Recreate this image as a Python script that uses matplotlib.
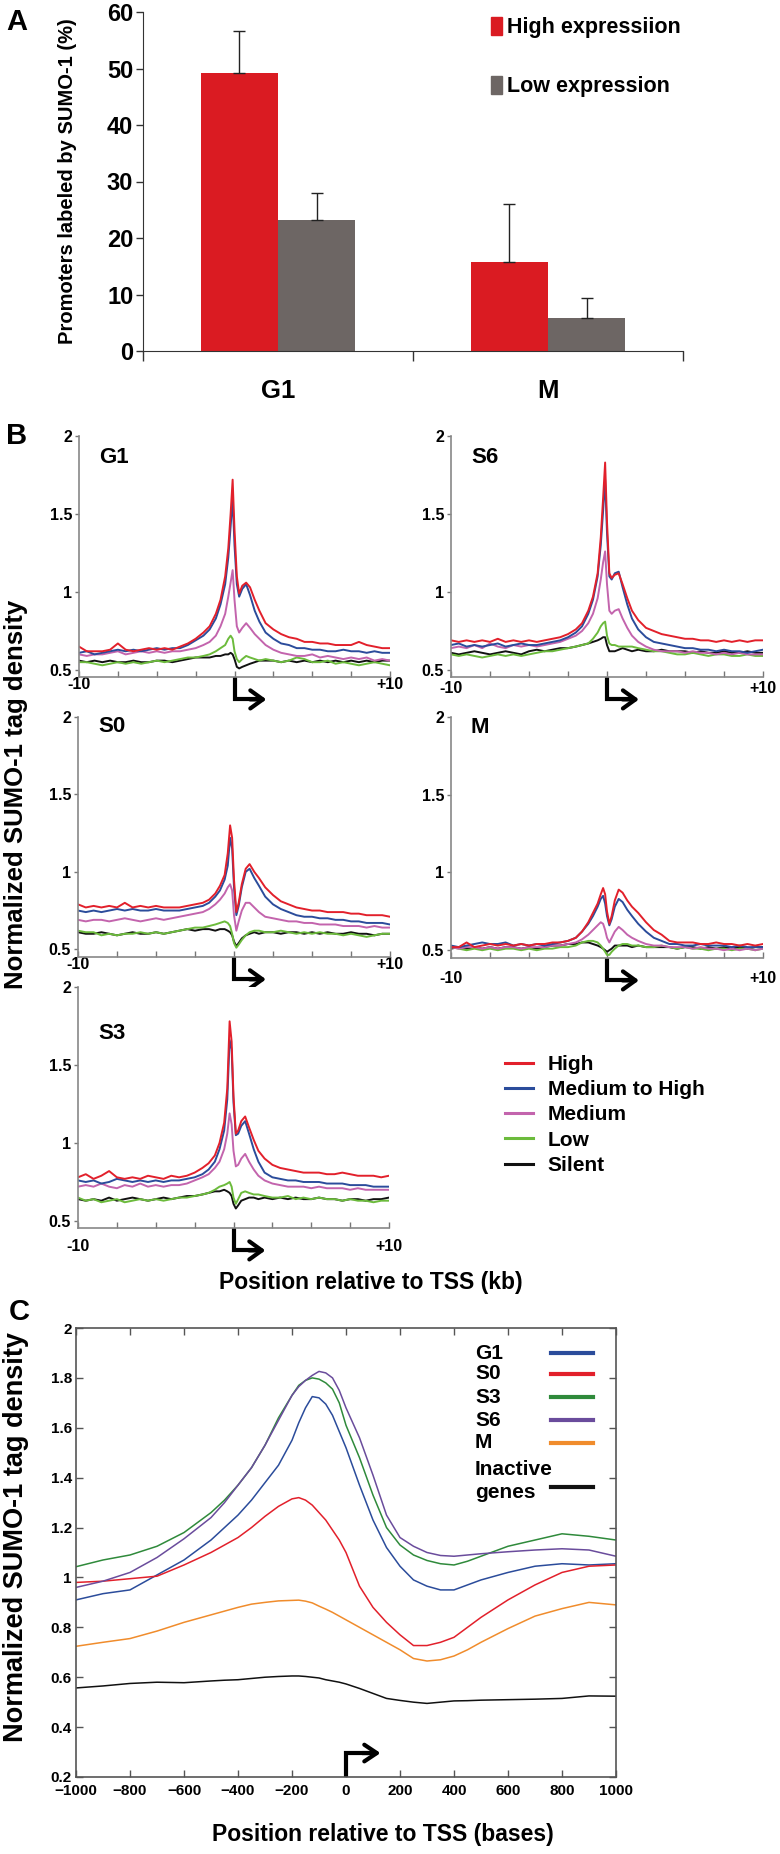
import matplotlib
matplotlib.use("Agg")
import matplotlib.pyplot as plt
from matplotlib import font_manager
from matplotlib.patches import Patch
from matplotlib.lines import Line2D
from matplotlib.ticker import FuncFormatter, MultipleLocator
import numpy as np

W, H = 780, 1854
DPI = 100

names = {f.name for f in font_manager.fontManager.ttflist}
SANS = 'Liberation Sans' if 'Liberation Sans' in names else 'DejaVu Sans'
plt.rcParams['font.family'] = [SANS, 'DejaVu Sans']
plt.rcParams['font.weight'] = 'bold'

# ---------------- panel A data ----------------
stages_a = ['G1', 'M']
high_pct = [49.2, 15.8]
high_err = [7.5, 10.2]
low_pct = [23.2, 5.8]
low_err = [4.8, 3.5]

# ---------------- panel B data (kb from TSS) ----------------
levels = ['High', 'Medium to High', 'Medium', 'Low', 'Silent']
level_colors = ['#e2202b', '#2b4c9b', '#c364ad', '#6cbb3c', '#111111']
xb = [-10, -9.5, -9, -8.5, -8, -7.5, -7, -6.5, -6, -5.5, -5, -4.5, -4, -3.5, -3, -2.5, -2,
      -1.6, -1.2, -0.9, -0.6, -0.4, -0.25, -0.12, 0, 0.15, 0.3, 0.5, 0.75, 1.0, 1.3, 1.6,
      2, 2.5, 3, 3.5, 4, 4.5, 5, 5.5, 6, 6.5, 7, 7.5, 8, 8.5, 9, 9.5, 10]

g1_high = [0.65, 0.62, 0.62, 0.62, 0.63, 0.67, 0.63, 0.62, 0.63, 0.64, 0.63, 0.64, 0.63, 0.65, 0.67, 0.70, 0.74,
           0.78, 0.86, 0.95, 1.10, 1.28, 1.50, 1.72, 1.40, 1.10, 0.99, 1.04, 1.06, 1.03, 0.95, 0.88,
           0.80, 0.76, 0.73, 0.71, 0.70, 0.68, 0.68, 0.67, 0.67, 0.66, 0.66, 0.66, 0.68, 0.66, 0.65, 0.64, 0.64]
g1_medhigh = [0.61, 0.62, 0.60, 0.61, 0.62, 0.63, 0.62, 0.63, 0.62, 0.63, 0.64, 0.63, 0.64, 0.64, 0.66, 0.69, 0.72,
              0.76, 0.83, 0.92, 1.05, 1.22, 1.42, 1.60, 1.30, 1.05, 0.97, 1.02, 1.05, 0.98, 0.88, 0.81,
              0.74, 0.70, 0.67, 0.66, 0.64, 0.64, 0.63, 0.63, 0.62, 0.62, 0.63, 0.62, 0.62, 0.61, 0.62, 0.61, 0.61]
g1_medium = [0.60, 0.59, 0.60, 0.60, 0.61, 0.62, 0.60, 0.61, 0.62, 0.61, 0.62, 0.61, 0.62, 0.62, 0.63, 0.64, 0.66,
             0.68, 0.72, 0.78, 0.86, 0.97, 1.06, 1.14, 0.95, 0.78, 0.74, 0.77, 0.80, 0.77, 0.73, 0.70,
             0.66, 0.63, 0.61, 0.60, 0.59, 0.59, 0.60, 0.58, 0.59, 0.58, 0.57, 0.58, 0.57, 0.58, 0.56, 0.57, 0.56]
g1_low = [0.55, 0.55, 0.54, 0.53, 0.54, 0.55, 0.54, 0.55, 0.54, 0.55, 0.56, 0.55, 0.56, 0.57, 0.58, 0.58, 0.59,
          0.60, 0.62, 0.64, 0.66, 0.70, 0.72, 0.70, 0.62, 0.57, 0.55, 0.57, 0.59, 0.58, 0.57, 0.56,
          0.57, 0.56, 0.55, 0.56, 0.58, 0.57, 0.55, 0.55, 0.56, 0.54, 0.55, 0.54, 0.53, 0.54, 0.55, 0.54, 0.53]
g1_silent = [0.56, 0.55, 0.56, 0.55, 0.56, 0.55, 0.55, 0.56, 0.55, 0.55, 0.56, 0.56, 0.55, 0.56, 0.57, 0.58, 0.58,
             0.58, 0.59, 0.59, 0.60, 0.60, 0.61, 0.60, 0.57, 0.52, 0.51, 0.52, 0.53, 0.54, 0.55, 0.56,
             0.56, 0.56, 0.55, 0.56, 0.55, 0.56, 0.55, 0.56, 0.55, 0.56, 0.55, 0.56, 0.55, 0.56, 0.55, 0.56, 0.56]

s6_high = [0.69, 0.68, 0.69, 0.68, 0.69, 0.68, 0.70, 0.68, 0.69, 0.68, 0.69, 0.68, 0.69, 0.70, 0.71, 0.73, 0.76,
           0.80, 0.88, 0.97, 1.12, 1.35, 1.60, 1.83, 1.45, 1.12, 1.09, 1.11, 1.12, 1.05, 0.96, 0.88,
           0.82, 0.77, 0.75, 0.73, 0.72, 0.71, 0.70, 0.70, 0.69, 0.69, 0.68, 0.69, 0.68, 0.69, 0.68, 0.69, 0.69]
s6_medhigh = [0.66, 0.67, 0.65, 0.66, 0.65, 0.66, 0.67, 0.65, 0.66, 0.67, 0.66, 0.66, 0.67, 0.68, 0.69, 0.71, 0.74,
              0.78, 0.86, 0.95, 1.10, 1.30, 1.52, 1.72, 1.38, 1.10, 1.08, 1.12, 1.13, 1.03, 0.92, 0.83,
              0.76, 0.71, 0.68, 0.67, 0.66, 0.65, 0.64, 0.64, 0.63, 0.63, 0.62, 0.63, 0.62, 0.62, 0.61, 0.62, 0.63]
s6_medium = [0.64, 0.65, 0.64, 0.66, 0.64, 0.67, 0.65, 0.64, 0.66, 0.65, 0.66, 0.65, 0.66, 0.67, 0.68, 0.70, 0.72,
             0.75, 0.80, 0.86, 0.96, 1.08, 1.19, 1.26, 1.05, 0.88, 0.86, 0.88, 0.89, 0.83, 0.77, 0.72,
             0.68, 0.65, 0.63, 0.62, 0.62, 0.62, 0.61, 0.62, 0.61, 0.61, 0.60, 0.61, 0.60, 0.61, 0.60, 0.60, 0.60]
s6_low = [0.60, 0.59, 0.60, 0.59, 0.58, 0.59, 0.60, 0.59, 0.60, 0.59, 0.60, 0.61, 0.62, 0.62, 0.63, 0.64, 0.65,
          0.66, 0.67, 0.70, 0.74, 0.78, 0.80, 0.81, 0.72, 0.67, 0.66, 0.66, 0.65, 0.65, 0.65, 0.65,
          0.64, 0.63, 0.62, 0.62, 0.61, 0.60, 0.60, 0.61, 0.60, 0.59, 0.60, 0.60, 0.59, 0.59, 0.60, 0.59, 0.59]
s6_silent = [0.61, 0.60, 0.61, 0.62, 0.61, 0.60, 0.61, 0.62, 0.61, 0.60, 0.62, 0.63, 0.62, 0.63, 0.64, 0.64, 0.65,
             0.66, 0.67, 0.68, 0.69, 0.70, 0.71, 0.71, 0.66, 0.62, 0.62, 0.62, 0.63, 0.64, 0.63, 0.62,
             0.63, 0.62, 0.62, 0.63, 0.62, 0.62, 0.62, 0.61, 0.62, 0.61, 0.61, 0.62, 0.61, 0.61, 0.62, 0.61, 0.61]

s0_high = [0.79, 0.77, 0.78, 0.77, 0.78, 0.77, 0.80, 0.77, 0.78, 0.77, 0.78, 0.77, 0.77, 0.77, 0.78, 0.79, 0.80,
           0.82, 0.86, 0.91, 0.98, 1.12, 1.30, 1.22, 0.95, 0.74, 0.80, 0.92, 1.02, 1.05, 1.00, 0.96,
           0.90, 0.85, 0.81, 0.79, 0.77, 0.76, 0.75, 0.75, 0.74, 0.74, 0.74, 0.73, 0.73, 0.72, 0.72, 0.72, 0.71]
s0_medhigh = [0.75, 0.74, 0.75, 0.74, 0.75, 0.76, 0.75, 0.76, 0.75, 0.75, 0.76, 0.75, 0.75, 0.75, 0.76, 0.77, 0.78,
              0.80, 0.84, 0.88, 0.95, 1.04, 1.22, 1.15, 0.90, 0.72, 0.78, 0.90, 1.00, 1.02, 0.96, 0.91,
              0.84, 0.79, 0.76, 0.74, 0.72, 0.71, 0.71, 0.70, 0.70, 0.69, 0.69, 0.68, 0.68, 0.67, 0.67, 0.67, 0.66]
s0_medium = [0.69, 0.68, 0.69, 0.69, 0.68, 0.69, 0.70, 0.69, 0.68, 0.69, 0.70, 0.69, 0.70, 0.71, 0.72, 0.73, 0.74,
             0.76, 0.79, 0.82, 0.86, 0.90, 0.92, 0.88, 0.72, 0.62, 0.68, 0.75, 0.80, 0.80, 0.77, 0.74,
             0.71, 0.70, 0.69, 0.68, 0.68, 0.67, 0.67, 0.66, 0.66, 0.66, 0.65, 0.65, 0.65, 0.64, 0.65, 0.64, 0.64]
s0_low = [0.62, 0.61, 0.61, 0.59, 0.60, 0.59, 0.60, 0.60, 0.61, 0.60, 0.61, 0.60, 0.61, 0.62, 0.63, 0.64, 0.64,
          0.65, 0.66, 0.67, 0.68, 0.67, 0.65, 0.60, 0.54, 0.51, 0.53, 0.56, 0.59, 0.61, 0.62, 0.62,
          0.61, 0.61, 0.62, 0.61, 0.60, 0.61, 0.60, 0.61, 0.60, 0.60, 0.59, 0.60, 0.59, 0.58, 0.59, 0.60, 0.60]
s0_silent = [0.61, 0.60, 0.60, 0.61, 0.60, 0.59, 0.60, 0.61, 0.60, 0.60, 0.61, 0.60, 0.61, 0.62, 0.63, 0.62, 0.63,
             0.63, 0.62, 0.63, 0.63, 0.62, 0.61, 0.59, 0.55, 0.52, 0.54, 0.57, 0.59, 0.60, 0.61, 0.60,
             0.61, 0.61, 0.60, 0.61, 0.61, 0.60, 0.61, 0.60, 0.61, 0.60, 0.60, 0.61, 0.60, 0.60, 0.59, 0.60, 0.60]

m_high = [0.52, 0.52, 0.55, 0.52, 0.53, 0.54, 0.53, 0.54, 0.53, 0.54, 0.53, 0.54, 0.54, 0.55, 0.55, 0.56, 0.58,
          0.62, 0.68, 0.74, 0.80, 0.86, 0.90, 0.86, 0.75, 0.67, 0.72, 0.82, 0.89, 0.87, 0.82, 0.78,
          0.74, 0.68, 0.63, 0.60, 0.56, 0.55, 0.55, 0.55, 0.54, 0.54, 0.55, 0.54, 0.54, 0.53, 0.54, 0.53, 0.54]
m_medhigh = [0.53, 0.52, 0.53, 0.54, 0.55, 0.54, 0.54, 0.55, 0.53, 0.54, 0.53, 0.54, 0.53, 0.54, 0.55, 0.56, 0.58,
             0.62, 0.67, 0.72, 0.78, 0.83, 0.85, 0.80, 0.72, 0.66, 0.70, 0.78, 0.83, 0.81, 0.76, 0.72,
             0.67, 0.62, 0.58, 0.56, 0.54, 0.54, 0.53, 0.53, 0.54, 0.53, 0.53, 0.53, 0.52, 0.53, 0.52, 0.52, 0.52]
m_medium = [0.52, 0.51, 0.52, 0.52, 0.51, 0.52, 0.51, 0.52, 0.52, 0.51, 0.52, 0.52, 0.52, 0.53, 0.53, 0.54, 0.55,
            0.57, 0.60, 0.63, 0.66, 0.68, 0.67, 0.63, 0.58, 0.55, 0.58, 0.62, 0.65, 0.63, 0.60, 0.58,
            0.56, 0.54, 0.53, 0.53, 0.52, 0.52, 0.52, 0.51, 0.52, 0.51, 0.51, 0.50, 0.51, 0.50, 0.51, 0.50, 0.51]
m_low = [0.52, 0.51, 0.50, 0.51, 0.50, 0.51, 0.50, 0.51, 0.51, 0.50, 0.51, 0.50, 0.51, 0.51, 0.52, 0.52, 0.53,
         0.55, 0.56, 0.56, 0.55, 0.53, 0.51, 0.49, 0.47, 0.47, 0.49, 0.51, 0.53, 0.54, 0.54, 0.53,
         0.53, 0.52, 0.52, 0.53, 0.52, 0.51, 0.52, 0.51, 0.51, 0.50, 0.51, 0.51, 0.50, 0.51, 0.51, 0.50, 0.51]
m_silent = [0.51, 0.52, 0.51, 0.52, 0.51, 0.52, 0.51, 0.52, 0.52, 0.51, 0.52, 0.51, 0.52, 0.53, 0.53, 0.54, 0.54,
            0.55, 0.55, 0.54, 0.53, 0.52, 0.51, 0.50, 0.49, 0.50, 0.51, 0.53, 0.53, 0.53, 0.53, 0.52,
            0.53, 0.52, 0.52, 0.52, 0.52, 0.51, 0.52, 0.52, 0.51, 0.52, 0.51, 0.52, 0.51, 0.52, 0.51, 0.52, 0.52]

s3_high = [0.78, 0.80, 0.77, 0.79, 0.82, 0.78, 0.77, 0.78, 0.77, 0.79, 0.78, 0.77, 0.79, 0.78, 0.79, 0.81, 0.84,
           0.87, 0.92, 1.00, 1.13, 1.35, 1.78, 1.65, 1.30, 1.06, 1.08, 1.14, 1.17, 1.10, 1.02, 0.95,
           0.90, 0.86, 0.84, 0.83, 0.82, 0.81, 0.81, 0.81, 0.80, 0.80, 0.81, 0.80, 0.79, 0.79, 0.79, 0.78, 0.79]
s3_medhigh = [0.76, 0.75, 0.76, 0.74, 0.75, 0.77, 0.76, 0.75, 0.76, 0.75, 0.76, 0.75, 0.76, 0.76, 0.77, 0.78, 0.80,
              0.83, 0.88, 0.96, 1.08, 1.28, 1.66, 1.60, 1.26, 1.05, 1.06, 1.11, 1.14, 1.06, 0.96, 0.88,
              0.81, 0.78, 0.77, 0.76, 0.76, 0.75, 0.75, 0.75, 0.74, 0.74, 0.74, 0.73, 0.73, 0.73, 0.72, 0.72, 0.72]
s3_medium = [0.72, 0.73, 0.72, 0.74, 0.72, 0.71, 0.73, 0.72, 0.74, 0.72, 0.73, 0.72, 0.73, 0.73, 0.74, 0.76, 0.78,
             0.80, 0.84, 0.88, 0.96, 1.06, 1.19, 1.12, 0.95, 0.85, 0.86, 0.90, 0.93, 0.88, 0.83, 0.79,
             0.76, 0.74, 0.73, 0.72, 0.72, 0.72, 0.71, 0.72, 0.71, 0.71, 0.71, 0.70, 0.71, 0.70, 0.70, 0.70, 0.70]
s3_low = [0.65, 0.63, 0.64, 0.62, 0.63, 0.64, 0.62, 0.63, 0.64, 0.63, 0.64, 0.63, 0.64, 0.65, 0.65, 0.66, 0.67,
          0.68, 0.70, 0.72, 0.73, 0.74, 0.75, 0.72, 0.65, 0.61, 0.64, 0.68, 0.69, 0.68, 0.67, 0.67,
          0.66, 0.65, 0.65, 0.66, 0.64, 0.65, 0.64, 0.65, 0.64, 0.64, 0.63, 0.64, 0.63, 0.63, 0.62, 0.63, 0.63]
s3_silent = [0.64, 0.63, 0.64, 0.63, 0.65, 0.63, 0.64, 0.65, 0.64, 0.63, 0.64, 0.65, 0.64, 0.65, 0.66, 0.66, 0.67,
             0.68, 0.69, 0.69, 0.70, 0.69, 0.68, 0.66, 0.61, 0.58, 0.60, 0.63, 0.64, 0.65, 0.65, 0.64,
             0.65, 0.64, 0.65, 0.64, 0.65, 0.64, 0.64, 0.65, 0.64, 0.64, 0.63, 0.64, 0.64, 0.63, 0.64, 0.64, 0.65]

# ---------------- panel C data (bases from TSS) ----------------
xc = [-1000, -900, -800, -700, -600, -500, -450, -400, -350, -300, -250, -200, -175, -150, -125,
      -100, -75, -50, -25, 0, 50, 100, 150, 200, 250, 300, 350, 400, 450, 500, 600, 700, 800, 900, 1000]
c_g1 = [0.91, 0.935, 0.95, 1.01, 1.07, 1.15, 1.20, 1.25, 1.31, 1.38, 1.45, 1.55, 1.62, 1.68, 1.725,
        1.72, 1.695, 1.65, 1.585, 1.52, 1.37, 1.23, 1.12, 1.045, 0.99, 0.965, 0.95, 0.95, 0.97, 0.99,
        1.02, 1.045, 1.055, 1.05, 1.055]
c_s0 = [0.98, 0.985, 0.995, 1.005, 1.05, 1.10, 1.13, 1.16, 1.20, 1.245, 1.285, 1.315, 1.32, 1.31, 1.29,
        1.26, 1.23, 1.19, 1.15, 1.10, 0.965, 0.88, 0.82, 0.77, 0.727, 0.727, 0.74, 0.76, 0.80, 0.84,
        0.91, 0.97, 1.02, 1.045, 1.05]
c_s3 = [1.043, 1.07, 1.09, 1.125, 1.18, 1.26, 1.31, 1.37, 1.44, 1.53, 1.64, 1.73, 1.77, 1.79, 1.80,
        1.795, 1.78, 1.755, 1.70, 1.61, 1.48, 1.33, 1.20, 1.13, 1.09, 1.068, 1.055, 1.05, 1.065, 1.085,
        1.125, 1.15, 1.175, 1.165, 1.15]
c_s6 = [0.96, 0.985, 1.02, 1.08, 1.155, 1.24, 1.30, 1.37, 1.44, 1.53, 1.63, 1.73, 1.765, 1.79, 1.81,
        1.826, 1.82, 1.80, 1.75, 1.68, 1.56, 1.41, 1.25, 1.16, 1.125, 1.10, 1.088, 1.085, 1.09, 1.095,
        1.103, 1.11, 1.115, 1.11, 1.085]
c_m = [0.724, 0.74, 0.755, 0.785, 0.82, 0.85, 0.865, 0.88, 0.893, 0.90, 0.906, 0.908, 0.909, 0.905, 0.898,
       0.885, 0.873, 0.86, 0.845, 0.83, 0.80, 0.77, 0.74, 0.71, 0.675, 0.665, 0.67, 0.685, 0.71, 0.74,
       0.795, 0.845, 0.875, 0.90, 0.89]
c_inactive = [0.557, 0.565, 0.575, 0.58, 0.578, 0.585, 0.588, 0.59, 0.595, 0.60, 0.603, 0.605, 0.605, 0.603, 0.60,
              0.597, 0.59, 0.585, 0.58, 0.573, 0.555, 0.535, 0.515, 0.507, 0.50, 0.495, 0.50, 0.505, 0.506, 0.508,
              0.51, 0.512, 0.515, 0.525, 0.524]
c_names = ['G1', 'S0', 'S3', 'S6', 'M', 'Inactive\ngenes']
c_colors = ['#2b4c9b', '#e2202b', '#2f8a3b', '#6a4c9c', '#f08c2c', '#111111']

fig = plt.figure(figsize=(W / DPI, H / DPI), dpi=DPI)


def px_axes(left, top, right, bottom):
    return fig.add_axes([left / W, 1 - bottom / H, (right - left) / W, (bottom - top) / H])


def ftext(x, y, s, **kw):
    fig.text(x / W, 1 - y / H, s, **kw)


# ================= panel A =================
axa = px_axes(143, 12, 683, 351)
xa = np.arange(len(stages_a))
bw = 0.287
axa.bar(xa - bw / 2, high_pct, bw, color='#da1b22', label='High expressiion',
        yerr=[[0] * len(high_err), high_err], error_kw=dict(ecolor='#222222', elinewidth=1, capsize=4, capthick=1))
axa.bar(xa + bw / 2, low_pct, bw, color='#6d6664', label='Low expression',
        yerr=[[0] * len(low_err), low_err], error_kw=dict(ecolor='#222222', elinewidth=1, capsize=4, capthick=1))
axa.set_xlim(-0.5, 1.5)
axa.set_ylim(0, 60)
axa.set_yticks(range(0, 61, 10))
axa.set_xticks(xa)
axa.set_xticklabels(stages_a, fontsize=18.5, fontweight='bold')
axa.set_xticks([-0.5, 0.5, 1.5], minor=True)
axa.tick_params(axis='x', which='major', length=0, pad=20)
axa.tick_params(axis='x', which='minor', length=7, width=1, color='#333333', direction='out')
axa.tick_params(axis='y', length=5, width=1, color='#333333', labelsize=17, pad=2)
for s in ['top', 'right']:
    axa.spines[s].set_visible(False)
for s in ['left', 'bottom']:
    axa.spines[s].set_color('#333333')
axa.set_ylabel('Promoters labeled by SUMO-1 (%)', fontsize=14.5, fontweight='bold')
axa.yaxis.set_label_coords(-0.123, 0.5)
axa.legend(handles=[Patch(color='#da1b22'), Patch(color='#6d6664')],
           labels=['High expressiion', 'Low expression'], loc='upper left',
           bbox_to_anchor=(0.645, 0.985), frameon=False, handlelength=0.5, handleheight=0.9,
           handletextpad=0.25, labelspacing=1.75, borderpad=0, borderaxespad=0,
           prop={'size': 15.5, 'weight': 'bold'})

# ================= panel B =================
panels = [
    ('G1', (79, 436, 390, 677), (0.455, 2.0), 1.865, 0, [g1_high, g1_medhigh, g1_medium, g1_low, g1_silent]),
    ('S6', (451, 436, 763, 677), (0.455, 2.0), 1.865, 3, [s6_high, s6_medhigh, s6_medium, s6_low, s6_silent]),
    ('S0', (78, 717, 390, 957), (0.45, 2.0), 1.94, 0, [s0_high, s0_medhigh, s0_medium, s0_low, s0_silent]),
    ('M', (451, 717, 763, 958), (0.45, 2.0), 1.93, 9, [m_high, m_medhigh, m_medium, m_low, m_silent]),
    ('S3', (78, 987, 389, 1228), (0.455, 2.0), 1.70, 8, [s3_high, s3_medhigh, s3_medium, s3_low, s3_silent]),
]
xticks_b = np.arange(-10, 10.1, 2.5)
xlabels_b = ['-10'] + [''] * (len(xticks_b) - 2) + ['+10']
for name, box, ylim, ylab, xpad, series in panels:
    ax = px_axes(*box)
    for ys, col in zip(series[::-1], level_colors[::-1]):
        ax.plot(xb, ys, color=col, lw=1.4)
    ax.set_xlim(-10, 10)
    ax.set_ylim(*ylim)
    ax.set_yticks([0.5, 1, 1.5, 2])
    ax.yaxis.set_major_formatter(FuncFormatter(lambda v, p: f'{v:g}'))
    ax.set_xticks(xticks_b)
    ax.set_xticklabels(xlabels_b)
    ax.tick_params(axis='x', direction='in', length=4, width=1, color='#777777', labelsize=11.5, pad=xpad)
    ax.tick_params(axis='y', direction='out', length=3, width=1, color='#777777', labelsize=11.5, pad=2)
    for s in ['top', 'right']:
        ax.spines[s].set_visible(False)
    for s in ['left', 'bottom']:
        ax.spines[s].set_color('#888888')
        ax.spines[s].set_linewidth(1.2)
    ax.text(0.064, ylab, name, transform=ax.get_yaxis_transform(), fontsize=16,
            fontweight='bold', va='center', ha='left')
    # TSS arrow below axis
    tr = ax.get_xaxis_transform()
    ax.plot([0, 0, 1.6], [0, -0.093, -0.093], color='k', lw=3, transform=tr, clip_on=False,
            solid_joinstyle='miter', solid_capstyle='butt')
    ax.annotate('', xy=(2.05, -0.093), xytext=(1.0, -0.093), xycoords=tr, textcoords=tr,
                arrowprops=dict(arrowstyle='->,head_length=0.9,head_width=0.65', lw=3, color='k',
                                shrinkA=0, shrinkB=0), annotation_clip=False)

fig.legend(handles=[Line2D([], [], color=c, lw=2.2) for c in level_colors], labels=levels,
           loc='upper left', bbox_to_anchor=(505 / W, 1 - 1055 / H), frameon=False,
           handlelength=1.35, handletextpad=0.7, labelspacing=0.3, borderpad=0, borderaxespad=0,
           prop={'size': 15, 'weight': 'bold'})

ftext(371, 1282, 'Position relative to TSS (kb)', fontsize=16.5, fontweight='bold', ha='center', va='center')
ftext(16, 794, 'Normalized SUMO-1 tag density', fontsize=18.5, fontweight='bold', ha='center', va='center',
      rotation=90)

# ================= panel C =================
axc = px_axes(76, 1328, 616, 1777)
for ys, col in zip([c_g1, c_s0, c_s3, c_s6, c_m, c_inactive], c_colors):
    axc.plot(xc, ys, color=col, lw=1.1)
axc.set_xlim(-1000, 1000)
axc.set_ylim(0.2, 2.0)
axc.xaxis.set_major_locator(MultipleLocator(200))
axc.yaxis.set_major_locator(MultipleLocator(0.2))
axc.yaxis.set_major_formatter(FuncFormatter(lambda v, p: f'{v:g}'))
axc.tick_params(direction='in', length=5, width=1, color='#555555', top=True, right=True, labelsize=11)
axc.tick_params(axis='x', pad=5)
axc.tick_params(axis='y', pad=3)
for s in axc.spines.values():
    s.set_color('#555555')
    s.set_linewidth(1.2)
axc.plot([0, 0, 100], [0.2, 0.296, 0.296], color='k', lw=3, clip_on=False,
         solid_joinstyle='miter', solid_capstyle='butt')
axc.annotate('', xy=(128, 0.296), xytext=(60, 0.296),
             arrowprops=dict(arrowstyle='->,head_length=0.9,head_width=0.6', lw=3, color='k',
                             shrinkA=0, shrinkB=0))
# legend with keys to the right of the names
leg_rows = [0.944, 0.898, 0.846, 0.795, 0.744, 0.66]
for nm, col, yy in zip(c_names, c_colors, leg_rows):
    axc.text(0.739, yy, nm, transform=axc.transAxes, fontsize=15, fontweight='bold',
             va='center', ha='left', linespacing=1.25)
    ky = yy - 0.014 if '\n' in nm else yy
    axc.plot([0.88, 0.957], [ky, ky], color=col, lw=3, transform=axc.transAxes)

ftext(383, 1835, 'Position relative to TSS (bases)', fontsize=16.5, fontweight='bold', ha='center', va='center')
ftext(16, 1537, 'Normalized SUMO-1 tag density', fontsize=19.5, fontweight='bold', ha='center', va='center',
      rotation=90)

# panel letters
ftext(17, 22, 'A', fontsize=21, fontweight='bold', ha='center', va='center')
ftext(17, 436, 'B', fontsize=21, fontweight='bold', ha='center', va='center')
ftext(19, 1312, 'C', fontsize=21, fontweight='bold', ha='center', va='center')

fig.savefig('out.png', dpi=DPI, facecolor='white')
